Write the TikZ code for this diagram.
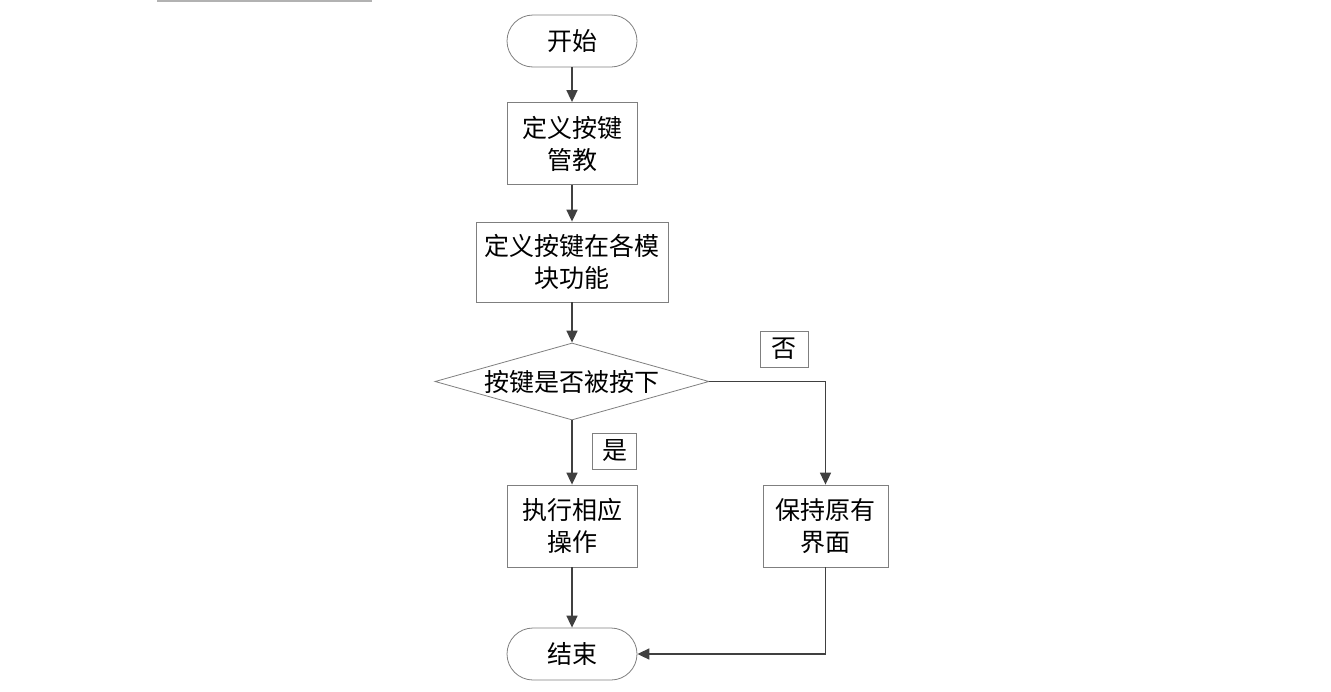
\documentclass[tikz,border=0pt]{standalone}
\usepackage{fontspec}
\newfontfamily\cjk{Noto Sans CJK SC}
\usetikzlibrary{shapes.geometric,arrows.meta}
\definecolor{linec}{HTML}{404040}
\definecolor{boxc}{HTML}{7F7F7F}
\begin{document}
\begin{tikzpicture}[x=1pt,y=-1pt,
  every node/.style={font=\cjk\fontsize{25}{32}\selectfont, text=black, inner sep=0pt, align=center},
  term/.style={draw=boxc, line width=0.8pt, rounded corners=26pt, minimum width=130pt, minimum height=52pt},
  proc/.style={draw=boxc, line width=0.8pt, minimum height=82pt},
  cond/.style={draw=boxc, line width=0.8pt, diamond, aspect=3.55, minimum width=274pt, minimum height=77pt, inner sep=0pt},
  lab/.style={draw=boxc, line width=0.8pt, fill=white, minimum width=44pt, minimum height=36pt},
  conn/.style={draw=linec, line width=1.7pt, -{Triangle[length=12pt,width=11pt]}}
]
\useasboundingbox (0,0) rectangle (1331,691);
\draw[line width=1.2pt, color=gray!60] (157,1) -- (372,1);

\node[term] (start) at (572,41) {开始};
\node[proc, minimum width=130pt] (def1) at (572,143.5) {定义按键\\管教};
\node[proc, minimum width=192pt, minimum height=80pt] (def2) at (572,262) {定义按键在各模\\块功能};
\node[cond] (dec) at (572,381.5) {按键是否被按下};
\node[proc, minimum width=130pt] (act) at (572,526) {执行相应\\操作};
\node[proc, minimum width=125pt] (keep) at (825.5,526) {保持原有\\界面};
\node[term] (stop) at (572,654) {结束};
\node[lab, minimum width=48pt] (no) at (784,349) {否};
\node[lab] (yes) at (614.5,451) {是};

\draw[conn] (start) -- (def1);
\draw[conn] (def1) -- (def2);
\draw[conn] (def2) -- (dec);
\draw[conn] (dec) -- (act);
\draw[conn] (act) -- (stop);
\draw[conn] (dec.east) -| (keep.north);
\draw[conn] (keep.south) |- (stop.east);
\end{tikzpicture}
\end{document}
